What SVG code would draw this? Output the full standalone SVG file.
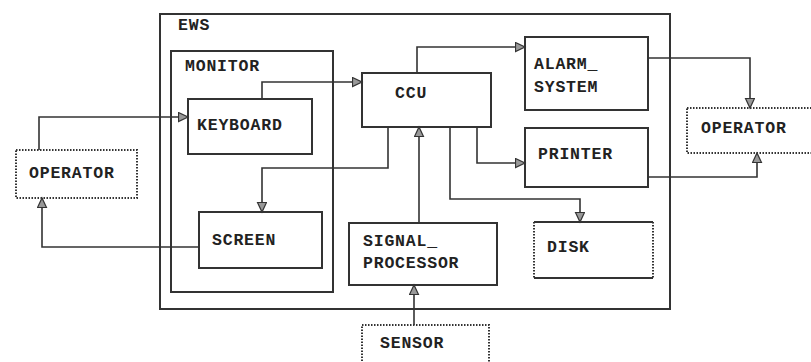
<svg xmlns="http://www.w3.org/2000/svg" width="811" height="362" viewBox="0 0 811 362">
<defs>
<style>
.bg{fill:#fff}
.box{fill:none;stroke:#333;stroke-width:2}
.dot{fill:none;stroke:#333;stroke-width:2;stroke-dasharray:1.5 1.5}
.sol{stroke:#333;stroke-width:2;fill:none}
.t{font-family:"Liberation Mono","Courier New",monospace;font-weight:bold;font-size:16.5px;letter-spacing:0.8px;fill:#222}
.c{fill:none;stroke:#333;stroke-width:1.6}
</style>
<marker id="ah" markerUnits="userSpaceOnUse" markerWidth="13" markerHeight="13" refX="10" refY="5" orient="auto">
<path d="M0.5,0.5 L10,5 L0.5,9.5 z" fill="#999" stroke="#333" stroke-width="1.2"/>
</marker>
</defs>
<rect class="bg" x="0" y="0" width="811" height="362"/>
<g id="ews"><rect class="box" x="160" y="14" width="510" height="295"/><text class="t" x="178" y="30">EWS</text></g>
<g id="monitor"><rect class="box" x="171" y="51" width="162" height="241"/><text class="t" x="185" y="71">MONITOR</text></g>
<g id="keyboard"><rect class="box" x="188" y="99" width="124" height="55"/><text class="t" x="197" y="130">KEYBOARD</text></g>
<g id="screen"><rect class="box" x="199" y="212" width="123" height="56"/><text class="t" x="212" y="245">SCREEN</text></g>
<g id="ccu"><rect class="box" x="362" y="73" width="129" height="54"/><text class="t" x="395" y="98">CCU</text></g>
<g id="alarm"><rect class="box" x="525" y="37" width="123" height="73"/><text class="t" x="534" y="69">ALARM_</text><text class="t" x="534" y="92">SYSTEM</text></g>
<g id="printer"><rect class="box" x="525" y="128" width="123" height="59"/><text class="t" x="538" y="159">PRINTER</text></g>
<g id="signal"><rect class="box" x="349" y="223" width="148" height="62"/><text class="t" x="363" y="246">SIGNAL_</text><text class="t" x="363" y="268">PROCESSOR</text></g>
<g id="disk"><line class="sol" x1="534" y1="222" x2="653" y2="222"/><line class="sol" x1="534" y1="278" x2="653" y2="278"/><line class="dot" x1="534" y1="222" x2="534" y2="278"/><line class="dot" x1="653" y1="222" x2="653" y2="278"/><text class="t" x="547" y="252">DISK</text></g>
<g id="operator-left"><rect class="dot" x="16" y="150" width="121" height="48"/><text class="t" x="29" y="178">OPERATOR</text></g>
<g id="operator-right"><rect class="dot" x="687" y="108" width="130" height="45"/><text class="t" x="701" y="133">OPERATOR</text></g>
<g id="sensor"><rect class="dot" x="362" y="325" width="127" height="50"/><text class="t" x="380" y="348">SENSOR</text></g>
<g id="connectors">
<path class="c" d="M39,150 V117 H188" marker-end="url(#ah)"/>
<path class="c" d="M262,99 V82 H362" marker-end="url(#ah)"/>
<path class="c" d="M388,127 V168 H262 V212" marker-end="url(#ah)"/>
<path class="c" d="M199,247 H42 V198" marker-end="url(#ah)"/>
<path class="c" d="M419,223 V127" marker-end="url(#ah)"/>
<path class="c" d="M414,325 V285" marker-end="url(#ah)"/>
<path class="c" d="M417,73 V47 H525" marker-end="url(#ah)"/>
<path class="c" d="M450,127 V199 H580 V222" marker-end="url(#ah)"/>
<path class="c" d="M477,127 V163 H525" marker-end="url(#ah)"/>
<path class="c" d="M648,58 H750 V108" marker-end="url(#ah)"/>
<path class="c" d="M648,177 H757 V153" marker-end="url(#ah)"/>
</g>
</svg>
